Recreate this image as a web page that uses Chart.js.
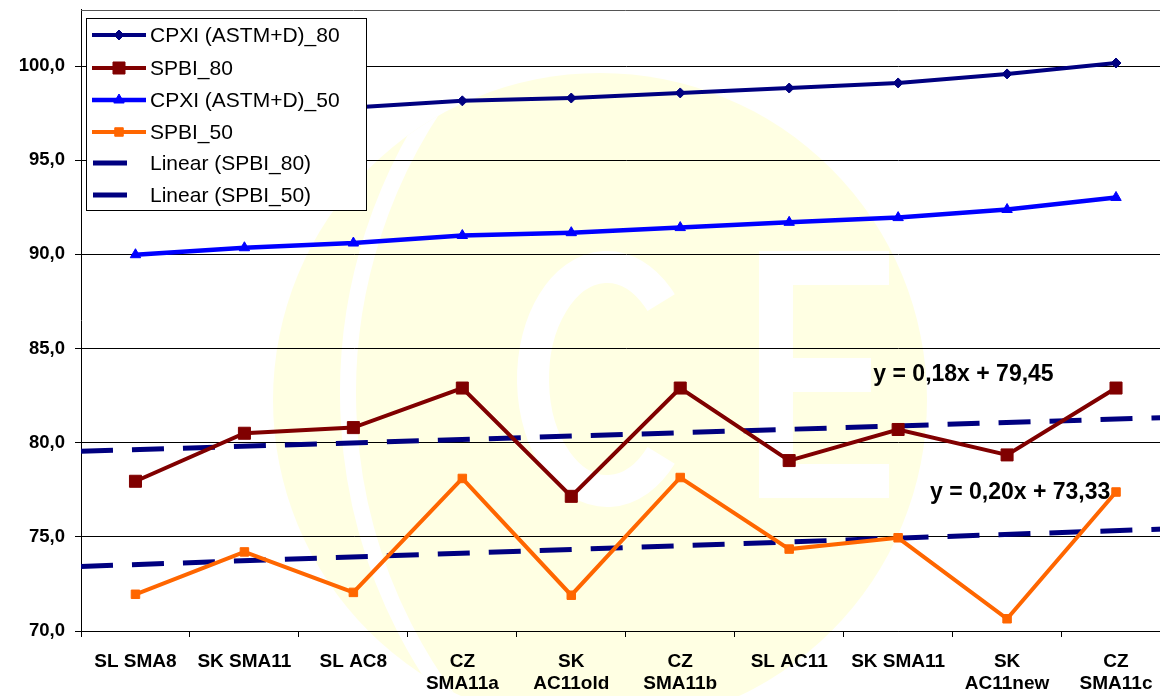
<!DOCTYPE html>
<html><head><meta charset="utf-8">
<script src="https://cdn.jsdelivr.net/npm/chart.js@4.4.1/dist/chart.umd.min.js"></script>
<style>
html,body{margin:0;padding:0;background:#fff;overflow:hidden;width:1160px;height:696px}
#wrap{position:absolute;left:0;top:0;width:1180px;height:696px}
canvas{display:block}
</style></head>
<body><div id="wrap"><canvas id="c" width="1180" height="696"></canvas></div>
<script>
const categories = [['SL SMA8'],['SK SMA11'],['SL AC8'],['CZ','SMA11a'],['SK','AC11old'],['CZ','SMA11b'],['SL AC11'],['SK SMA11'],['SK','AC11new'],['CZ','SMA11c']];
const cpxi80 = [97.2, 97.5, 97.8, 98.15, 98.3, 98.57, 98.83, 99.1, 99.58, 100.16];
const spbi80 = [77.95, 80.5, 80.8, 82.9, 77.15, 82.9, 79.05, 80.7, 79.35, 82.9];
const cpxi50 = [89.98, 90.35, 90.6, 91.0, 91.15, 91.42, 91.7, 91.95, 92.38, 93.02];
const spbi50 = [71.95, 74.2, 72.05, 78.1, 71.9, 78.15, 74.35, 74.95, 70.65, 77.38];
const trendX = [0.5, 10.5];
const trend80 = [79.54, 81.34];
const trend50 = [73.43, 75.43];
const seriesNames = ['CPXI (ASTM+D)_80','SPBI_80','CPXI (ASTM+D)_50','SPBI_50','Linear (SPBI_80)','Linear (SPBI_50)'];
const equationTexts = ['y = 0,18x + 79,45', 'y = 0,20x + 73,33'];
const equationAt = [[8.6, 83.6], [9.12, 77.37]];
const yTicks = [70, 75, 80, 85, 90, 95, 100];

const FAMILY = "'Liberation Sans', Arial, Helvetica, sans-serif";

const watermark = {
  id: 'watermark',
  beforeDraw(chart) {
    const ctx = chart.ctx;
    ctx.save();
    ctx.beginPath();
    ctx.arc(600, 400, 327, 0, Math.PI * 2);
    ctx.fillStyle = '#FFFFE3';
    ctx.fill();
    ctx.clip();
    ctx.strokeStyle = '#ffffff';
    ctx.lineWidth = 16;
    ctx.beginPath();
    ctx.arc(864, 393, 516, Math.PI * 0.6, Math.PI * 1.4);
    ctx.stroke();
    ctx.lineWidth = 32;
    ctx.beginPath();
    ctx.ellipse(607, 379, 74, 112, 0, 0.75, Math.PI * 2 - 0.75);
    ctx.stroke();
    ctx.fillStyle = '#ffffff';
    ctx.fillRect(759, 251, 34, 247);
    ctx.fillRect(759, 251, 130, 34);
    ctx.fillRect(759, 358, 112, 34);
    ctx.fillRect(759, 464, 130, 34);
    ctx.restore();
  }
};

const extras = {
  id: 'extras',
  afterDatasetsDraw(chart) {
    const ctx = chart.ctx;
    const a = chart.chartArea;
    ctx.save();
    ctx.strokeStyle = '#555';
    ctx.lineWidth = 1;
    ctx.beginPath();
    ctx.moveTo(a.left, Math.round(a.top) + 0.5);
    ctx.lineTo(a.right, Math.round(a.top) + 0.5);
    ctx.stroke();
    const xs = chart.scales.xt, ys = chart.scales.y;
    ctx.fillStyle = '#000';
    ctx.font = 'bold 23px ' + FAMILY;
    ctx.textAlign = 'center';
    ctx.textBaseline = 'middle';
    equationTexts.forEach((t, i) => {
      ctx.fillText(t, xs.getPixelForValue(equationAt[i][0]), ys.getPixelForValue(equationAt[i][1]));
    });
    ctx.restore();
  },
  afterDraw(chart) {
    const ctx = chart.ctx;
    const L = 86.5, T = 18.5, W = 280, H = 192;
    ctx.save();
    ctx.fillStyle = '#fff';
    ctx.fillRect(L, T, W, H);
    ctx.strokeStyle = '#000';
    ctx.lineWidth = 1;
    ctx.strokeRect(L, T, W, H);
    const rowY = [35, 68, 100, 132, 163, 195];
    chart.data.datasets.forEach((ds, i) => {
      const y = rowY[i];
      ctx.setLineDash([]);
      ctx.strokeStyle = ds.borderColor;
      ctx.lineWidth = ds.borderWidth;
      ctx.lineCap = 'butt';
      ctx.beginPath();
      if (ds.isTrend) { ctx.moveTo(93, y); ctx.lineTo(127, y); }
      else { ctx.moveTo(92, y); ctx.lineTo(146, y); }
      ctx.stroke();
      if (!ds.isTrend) {
        ctx.fillStyle = ds.pointBackgroundColor;
        ctx.strokeStyle = ds.pointBorderColor;
        ctx.lineWidth = 1;
        Chart.helpers.drawPoint(ctx, {pointStyle: ds.pointStyle, radius: ds.pointRadius, rotation: 0, borderWidth: 1}, 119, y);
      }
      ctx.fillStyle = '#000';
      ctx.font = '21px ' + FAMILY;
      ctx.textAlign = 'left';
      ctx.textBaseline = 'middle';
      ctx.fillText(seriesNames[i], 150, y + 1);
    });
    ctx.restore();
  }
};

function lineDs(name, data, color, width, style, radius) {
  return {
    label: name, data, borderColor: color, backgroundColor: color,
    borderWidth: width, pointStyle: style, pointRadius: radius,
    pointBackgroundColor: color, pointBorderColor: color, pointBorderWidth: 1,
    tension: 0, fill: false, xAxisID: 'x', yAxisID: 'y'
  };
}
function trendDs(name, ys) {
  return {
    label: name, isTrend: true,
    data: trendX.map((x, i) => ({x, y: ys[i]})),
    borderColor: '#000080', backgroundColor: '#000080', borderWidth: 5,
    borderDash: [32, 19], pointRadius: 0, tension: 0, fill: false,
    xAxisID: 'xt', yAxisID: 'y'
  };
}

new Chart(document.getElementById('c'), {
  type: 'line',
  data: {
    labels: categories,
    datasets: [
      lineDs(seriesNames[0], cpxi80, '#000080', 4, 'rectRot', 5),
      lineDs(seriesNames[1], spbi80, '#800000', 4, 'rect', 8.5),
      lineDs(seriesNames[2], cpxi50, '#0000FF', 4.5, 'triangle', 6),
      lineDs(seriesNames[3], spbi50, '#FF6600', 4, 'rect', 6),
      trendDs(seriesNames[4], trend80),
      trendDs(seriesNames[5], trend50)
    ]
  },
  options: {
    responsive: false,
    animation: false,
    devicePixelRatio: 1,
    events: [],
    layout: {padding: {top: 7, left: 0, right: 3, bottom: 0}},
    plugins: {legend: {display: false}, tooltip: {enabled: false}},
    scales: {
      x: {
        type: 'category', position: 'bottom', offset: true,
        grid: {offset: true, drawOnChartArea: false, drawTicks: true, tickLength: 6, color: '#000', lineWidth: 1},
        border: {display: true, color: '#000', width: 1},
        ticks: {autoSkip: false, maxRotation: 0, minRotation: 0, padding: 14, color: '#000',
                font: {family: FAMILY, size: 19, weight: 'bold', lineHeight: 1.15}},
        afterFit(s) { s.height = 65; s.paddingLeft = 0; s.paddingRight = 0; }
      },
      xt: {type: 'linear', display: false, min: trendX[0], max: trendX[1], position: 'bottom'},
      y: {
        type: 'linear', position: 'left', min: 70, max: 103,
        afterBuildTicks(s) { s.ticks = yTicks.map(v => ({value: v})); },
        grid: {color: '#000', lineWidth: 1, tickLength: 6, drawTicks: true},
        border: {display: true, color: '#000', width: 1},
        ticks: {padding: 10, color: '#000', font: {family: FAMILY, size: 18.5, weight: 'bold'},
                callback: v => v.toFixed(1).replace('.', ',')},
        afterFit(s) { s.width = 81; s.paddingTop = 0; s.paddingBottom = 0; }
      }
    }
  },
  plugins: [watermark, extras]
});
</script>
</body></html>
